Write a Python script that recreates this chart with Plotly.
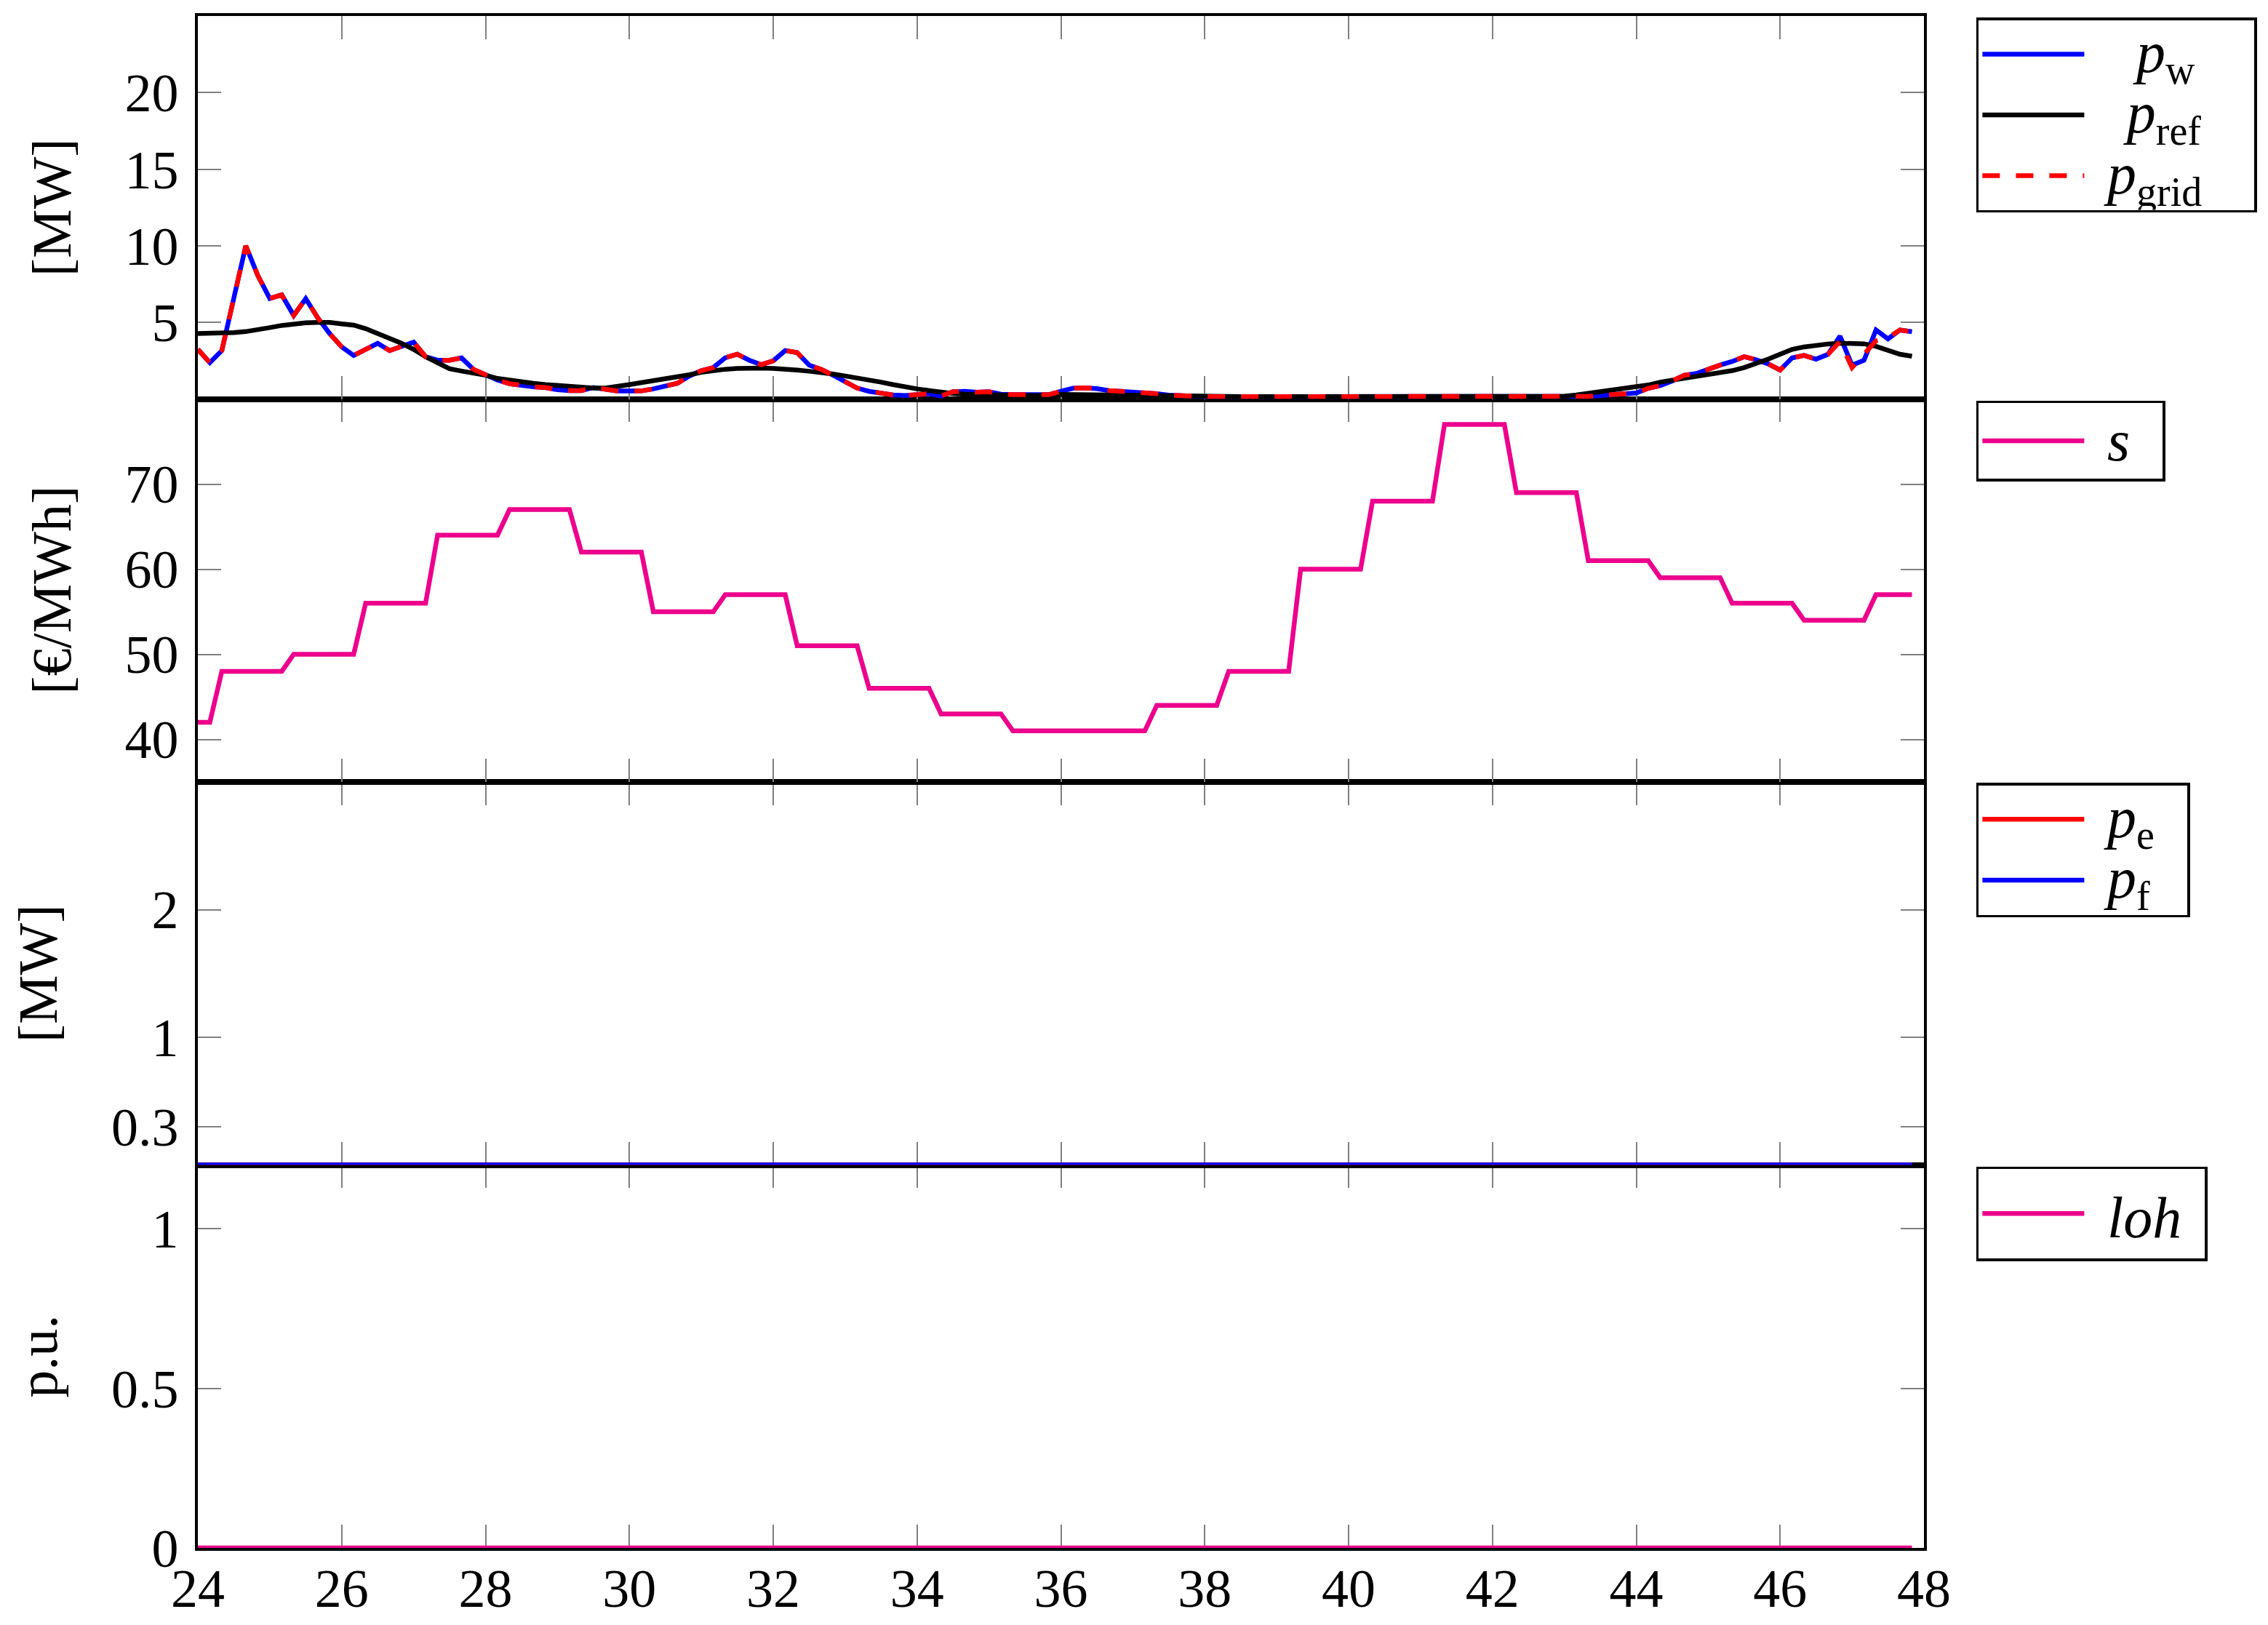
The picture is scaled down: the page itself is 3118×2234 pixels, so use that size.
import numpy as np
import plotly.graph_objects as go
from plotly.subplots import make_subplots

# 10-minute samples from hour 24 to 47.83
N_SAMPLES = 144
t = 24 + np.arange(N_SAMPLES) / 6

p_w = [
    3.24, 2.37, 3.16, 6.64, 10.0, 8.06, 6.56, 6.8, 5.45, 6.55, 5.3, 4.27,
    3.4, 2.84, 3.24, 3.63, 3.16, 3.4, 3.71, 2.76, 2.53, 2.53, 2.68, 1.93,
    1.58, 1.24, 1.0, 0.87, 0.79, 0.75, 0.6, 0.55, 0.55, 0.75, 0.6, 0.52,
    0.52, 0.53, 0.66, 0.82, 1.02, 1.5, 1.85, 2.05, 2.69, 2.92, 2.53, 2.24,
    2.49, 3.16, 3.03, 2.21, 1.93, 1.55, 1.1, 0.71, 0.5, 0.36, 0.26, 0.23,
    0.31, 0.34, 0.2, 0.47, 0.5, 0.44, 0.47, 0.31, 0.28, 0.28, 0.23, 0.28,
    0.5, 0.7, 0.72, 0.68, 0.55, 0.5, 0.45, 0.45, 0.35, 0.25, 0.2, 0.18,
    0.15, 0.15, 0.15, 0.15, 0.15, 0.15, 0.15, 0.15, 0.15, 0.15, 0.15, 0.15,
    0.15, 0.15, 0.15, 0.15, 0.15, 0.15, 0.15, 0.15, 0.15, 0.15, 0.15, 0.15,
    0.15, 0.15, 0.15, 0.15, 0.15, 0.15, 0.15, 0.15, 0.17, 0.23, 0.26, 0.31,
    0.39, 0.7, 0.87, 1.18, 1.55, 1.66, 1.97, 2.21, 2.45, 2.76, 2.56, 2.29,
    1.89, 2.68, 2.84, 2.6, 2.92, 4.1, 2.21, 2.53, 4.5, 3.92, 4.5, 4.39,
]

p_ref = [
    4.27, 4.28, 4.3, 4.33, 4.4, 4.5, 4.66, 4.8, 4.9, 4.97, 5.0, 5.0,
    4.9, 4.82, 4.59, 4.3, 3.95, 3.63, 3.24, 2.76, 2.37, 1.97, 1.82, 1.69,
    1.55, 1.34, 1.22, 1.1, 1.02, 0.94, 0.87, 0.79, 0.75, 0.71, 0.71, 0.79,
    0.94, 1.07, 1.18, 1.29, 1.42, 1.58, 1.74, 1.86, 1.94, 1.99, 2.02, 2.02,
    1.99, 1.96, 1.89, 1.81, 1.74, 1.63, 1.5, 1.39, 1.26, 1.1, 0.94, 0.78,
    0.66, 0.55, 0.44, 0.36, 0.31, 0.28, 0.25, 0.23, 0.23, 0.23, 0.23, 0.22,
    0.3, 0.3, 0.3, 0.3, 0.28, 0.27, 0.25, 0.24, 0.22, 0.2, 0.18, 0.17,
    0.15, 0.15, 0.15, 0.15, 0.15, 0.15, 0.15, 0.15, 0.15, 0.15, 0.15, 0.15,
    0.15, 0.15, 0.15, 0.15, 0.15, 0.15, 0.15, 0.15, 0.15, 0.15, 0.15, 0.15,
    0.15, 0.15, 0.15, 0.15, 0.15, 0.15, 0.18, 0.26, 0.36, 0.47, 0.55, 0.66,
    0.79, 0.91, 1.1, 1.23, 1.34, 1.45, 1.58, 1.69, 1.85, 2.05, 2.29, 2.6,
    2.92, 3.24, 3.4, 3.51, 3.59, 3.64, 3.64, 3.6, 3.44, 3.16, 2.92, 2.79,
]

# grid power follows p_w except for the last few samples
p_grid_tail = [3.75, 2.05, 2.9, 3.8, 4.0, 4.5, 4.39]
p_grid = p_w[:137] + p_grid_tail

# hourly price, the first block starts 20 min late (2 samples), last one is 4
s_hourly = [42, 48, 50, 56, 64, 67, 62, 55, 57, 51, 46, 43, 41,
            41, 44, 48, 60, 68, 77, 69, 61, 59, 56, 54, 57]
s_counts = [2] + [6] * 23 + [4]
s = np.repeat(s_hourly, s_counts)

p_e = [0.0] * N_SAMPLES
p_f = [0.0] * N_SAMPLES
loh = [0.0] * N_SAMPLES

x_ticks = list(range(24, 49, 2))
y1_ticks, y1_text = [5, 10, 15, 20], ["5", "10", "15", "20"]
y2_ticks, y2_text = [40, 50, 60, 70], ["40", "50", "60", "70"]
y3_ticks, y3_text = [0.3, 1, 2], ["0.3", "1", "2"]
y4_ticks, y4_text = [0, 0.5, 1], ["0", "0.5", "1"]

BLUE, RED, BLACK, MAGENTA = "#0000FF", "#FF0000", "#000000", "#EC008C"
FONT = "Liberation Serif"
LW = 6.5
SP3, SP2 = "\u2004", "\u2002"  # 1/3 em and 1/2 em spaces for legend padding


def label(txt, lead=SP3, end=SP2):
    # legend row height follows legend.font.size, the glyphs are drawn bigger
    return f"<span style='font-size:80px'>{lead}{txt}{end}</span>"


# rows counted from the bottom so the upper panels are drawn last
ROW_POWER, ROW_PRICE, ROW_PEF, ROW_LOH = 4, 3, 2, 1

fig = make_subplots(rows=4, cols=1, shared_xaxes=True, vertical_spacing=0,
                    start_cell="bottom-left")

fig.add_trace(go.Scatter(x=t, y=p_w, mode="lines",
                         name=label("<i>p</i><sub>w</sub>", lead=SP3 + SP2),
                         line=dict(color=BLUE, width=LW), legend="legend"),
              row=ROW_POWER, col=1)
fig.add_trace(go.Scatter(x=t, y=p_ref, mode="lines",
                         name=label("<i>p</i><sub>ref</sub>", lead=SP3 + SP3),
                         line=dict(color=BLACK, width=LW), legend="legend"),
              row=ROW_POWER, col=1)
fig.add_trace(go.Scatter(x=t, y=p_grid, mode="lines",
                         name=label("<i>p</i><sub>grid</sub>", end=SP2 + SP3),
                         line=dict(color=RED, width=LW, dash="24px,22px"), legend="legend"),
              row=ROW_POWER, col=1)

fig.add_trace(go.Scatter(x=t, y=s, mode="lines", name=label("<i>s</i>"),
                         line=dict(color=MAGENTA, width=LW), legend="legend2"),
              row=ROW_PRICE, col=1)

fig.add_trace(go.Scatter(x=t, y=p_e, mode="lines", name=label("<i>p</i><sub>e</sub>"),
                         line=dict(color=RED, width=LW), legend="legend3"),
              row=ROW_PEF, col=1)
fig.add_trace(go.Scatter(x=t, y=p_f, mode="lines", name=label("<i>p</i><sub>f</sub>"),
                         line=dict(color=BLUE, width=LW), legend="legend3"),
              row=ROW_PEF, col=1)

fig.add_trace(go.Scatter(x=t, y=loh, mode="lines", name=label("<i>loh</i>", end=SP3),
                         line=dict(color=MAGENTA, width=LW), legend="legend4"),
              row=ROW_LOH, col=1)

axis_style = dict(
    showline=True, linecolor="black", linewidth=3.5, mirror="allticks",
    ticks="inside", ticklen=32, tickwidth=2, tickcolor="#808080",
    showgrid=False, zeroline=False, layer="below traces", automargin=False,
)
fig.update_xaxes(range=[24, 48], tickvals=x_ticks, ticktext=[str(v) for v in x_ticks],
                 showticklabels=False, **axis_style)
fig.update_xaxes(showticklabels=True, ticklabelstandoff=-12, row=ROW_LOH, col=1)
fig.update_yaxes(ticklabelstandoff=8, **axis_style)
fig.update_yaxes(range=[0, 25], tickvals=y1_ticks, ticktext=y1_text, row=ROW_POWER, col=1)
fig.update_yaxes(range=[35, 80], tickvals=y2_ticks, ticktext=y2_text, row=ROW_PRICE, col=1)
fig.update_yaxes(range=[0, 3], tickvals=y3_ticks, ticktext=y3_text, row=ROW_PEF, col=1)
fig.update_yaxes(range=[0, 1.2], tickvals=y4_ticks, ticktext=y4_text, row=ROW_LOH, col=1)

legend_style = dict(
    xanchor="left", yanchor="top", x=1.0303,
    bordercolor="black", borderwidth=3.5, bgcolor="white", itemwidth=140,
)


def legend_font(size):
    return dict(family=FONT, size=size, color="black")


y_titles = [("[MW]", 0.875, -0.0847), ("[€/MWh]", 0.625, -0.0847),
            ("[MW]", 0.375, -0.0927), ("p.u.", 0.125, -0.0927)]

fig.update_layout(
    template="none",
    width=3118, height=2234,
    margin=dict(l=272, r=473, t=22, b=106),
    paper_bgcolor="white", plot_bgcolor="white",
    font=dict(family=FONT, size=74, color="black"),
    legend=dict(y=0.999, font=legend_font(62), **legend_style),
    legend2=dict(y=0.749, font=legend_font(70), **legend_style),
    legend3=dict(y=0.4995, font=legend_font(62), **legend_style),
    legend4=dict(y=0.249, font=legend_font(84), **legend_style),
    annotations=[
        dict(text=txt, x=xp, y=yp, xref="paper", yref="paper", textangle=-90,
             showarrow=False, xanchor="center", yanchor="middle",
             font=dict(family=FONT, size=76, color="black"))
        for txt, yp, xp in y_titles
    ],
)

fig.write_html("out.html", config={"displayModeBar": False},
               post_script="document.body.style.margin = '0';")
